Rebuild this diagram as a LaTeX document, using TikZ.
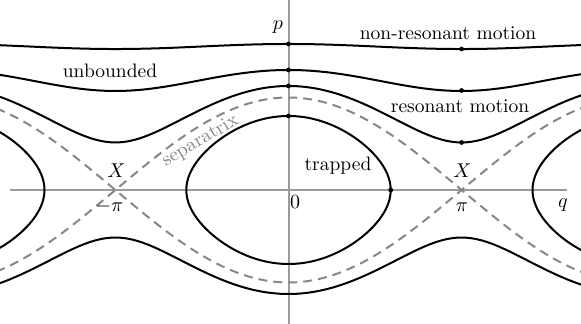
\documentclass[tikz,border=0pt]{standalone}
\definecolor{axgray}{RGB}{155,155,155}
\definecolor{sepgray}{RGB}{135,135,135}
\begin{document}
\begin{tikzpicture}[x=0.5pt,y=0.5pt,
  font=\fontsize{9.75}{12}\selectfont,
  curve/.style={line width=1pt, black},
  axisline/.style={line width=1pt, axgray},
  sepline/.style={line width=1pt, sepgray, dash pattern=on 4.5pt off 3pt},
  dotm/.style={circle, fill=black, inner sep=0pt, minimum size=2.4pt},
  lbl/.style={inner sep=0pt}]
\useasboundingbox (-288.5,-134) rectangle (292.5,190);
% axes
\coordinate (xl) at (-278.5,0);
\coordinate (xr) at (278.5,0);
\coordinate (yb) at (0,-134);
\coordinate (yt) at (0,190);
\draw[axisline] (xl) -- (xr);
\draw[axisline] (yb) -- (yt);
\begin{scope}
\clip (-288.5,-134) rectangle (292.5,190);
% separatrix
\draw[sepline] plot[domain=-5.3:5.35, samples=121, smooth] ({55.1*\x}, {92.5*cos(deg(\x/2))});
\draw[sepline] plot[domain=-5.3:5.35, samples=121, smooth] ({55.1*\x}, {-92.5*cos(deg(\x/2))});
% rotating orbits
\draw[curve] plot[domain=-5.3:5.35, samples=121, smooth] ({55.1*\x}, {10*sqrt(14.6*14.6-3.8*3.8*pow(sin(deg(\x/2)),2))});
\draw[curve] plot[domain=-5.3:5.35, samples=121, smooth] ({55.1*\x}, {10*sqrt(12.0*12.0-6.78*6.78*pow(sin(deg(\x/2)),2))});
\draw[curve] plot[domain=-5.3:5.35, samples=121, smooth] ({55.1*\x}, {10*sqrt(10.4*10.4-9.25*9.25*pow(sin(deg(\x/2)),2))});
\draw[curve] plot[domain=-5.3:5.35, samples=121, smooth] ({55.1*\x}, {-10*sqrt(10.4*10.4-9.25*9.25*pow(sin(deg(\x/2)),2))});
% trapped orbits
\foreach \s in {-346.2,0,346.2}{
  \draw[curve] plot[domain=0:360, samples=145, smooth cycle] ({\s+55.1*rad(2*asin(0.8*sin(\x)))}, {74*cos(\x)});
}
\end{scope}
% dots
\node[dotm] (d1) at (0,146) {};
\node[dotm] (d2) at (0,120) {};
\node[dotm] (d3) at (0,104) {};
\node[dotm] (d4) at (0,74) {};
\node[dotm] (d5) at (173.1,141) {};
\node[dotm] (d6) at (173.1,99.5) {};
\node[dotm] (d7) at (173.1,47.5) {};
\node[dotm] (d8) at (102.2,0) {};
% labels
\node[lbl] (lp) at (-10.5,163) {$p$};
\node[lbl] (lq) at (274.5,-15) {$q$};
\node[lbl] (l0) at (6.5,-12) {$0$};
\node[lbl] (lpi) at (173.5,-17) {$\pi$};
\node[lbl] (lmpi) at (-179,-16.5) {$-\pi$};
\node[lbl] (lXl) at (-172,19) {$X$};
\node[lbl] (lXr) at (174,19) {$X$};
\node[lbl] (lnr) at (159.5,157) {non-resonant motion};
\node[lbl] (lub) at (-178.5,119) {unbounded};
\node[lbl] (lres) at (171.5,84) {resonant motion};
\node[lbl] (ltr) at (49.5,24) {trapped};
\node[lbl, rotate=30.5, text=sepgray] (lsep) at (-88,49) {separatrix};
\end{tikzpicture}
\end{document}
